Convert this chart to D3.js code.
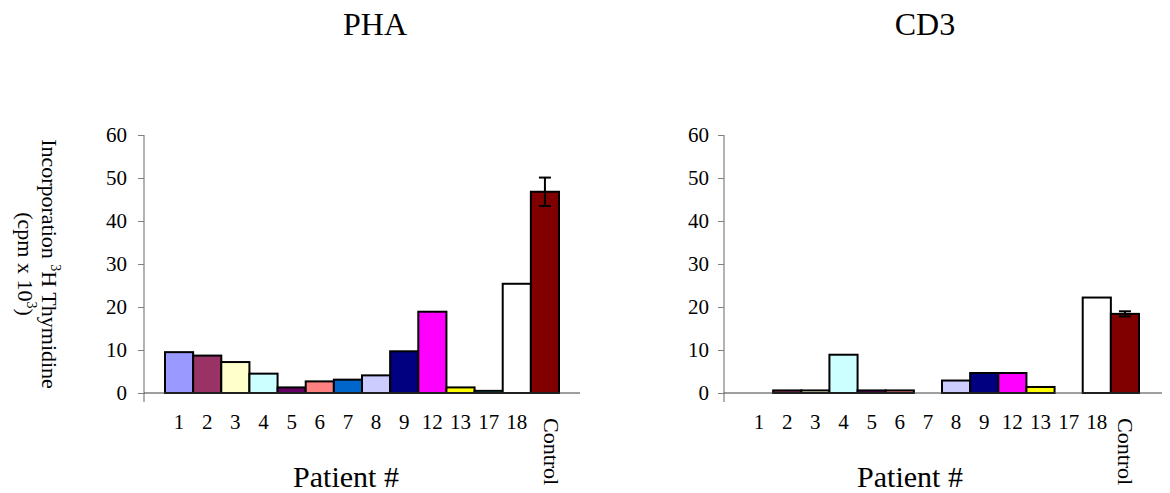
<!DOCTYPE html>
<html>
<head>
<meta charset="utf-8">
<script src="https://cdn.jsdelivr.net/npm/d3@7"></script>
<style>
	body { margin: 0; background: #fff; }
	svg text { font-family: "Liberation Serif", "Times New Roman", serif; fill: #000; }
</style>
</head>
<body>
<svg id="chart" width="1170" height="493"></svg>
<script>
var patients = ["1", "2", "3", "4", "5", "6", "7", "8", "9", "12", "13", "17", "18", "Control"];
var barColors = ["#9999ff", "#993366", "#ffffcc", "#ccffff", "#660066", "#ff8080", "#0066cc",
	"#ccccff", "#000080", "#ff00ff", "#ffff00", "#00ffff", "#ffffff", "#800000"];
var phaValues = [9.5, 8.7, 7.2, 4.5, 1.3, 2.7, 3.1, 4.1, 9.7, 18.9, 1.3, 0.5, 25.4, 46.8];
var phaControlError = 3.3;
var cd3Values = [0, 0.6, 0.6, 8.9, 0.6, 0.6, 0, 2.9, 4.65, 4.65, 1.4, 0, 22.2, 18.4];
var cd3ControlError = 0.6;
var yTicks = [0, 10, 20, 30, 40, 50, 60];

var serif = '"Liberation Serif", "Times New Roman", serif';
var svg = d3.select('#chart');

var panels = [
	{title: 'PHA', values: phaValues, err: phaControlError, x0: 144, x1: 580, titleX: 375, xTitleX: 346, ctrlShift: -1, labelPad: 11},
	{title: 'CD3', values: cd3Values, err: cd3ControlError, x0: 724, x1: 1162, titleX: 925, xTitleX: 910, ctrlShift: -7, labelPad: 9}
];

var y = d3.scaleLinear().domain([0, 60]).range([393, 135]);

panels.forEach(function(p, idx){
	var g = svg.append('g');
	var x = d3.scaleBand()
		.domain(patients)
		.range([p.x0 + 21, p.x0 + 415])
		.padding(0);

	var data = patients.map(function(d, i){
		return {name: d, v: p.values[i], color: barColors[i]};
	});

	// title
	g.append('text')
		.attr('x', p.titleX)
		.attr('y', 35)
		.attr('text-anchor', 'middle')
		.style('font-size', '32px')
		.text(p.title);

	// y axis ticks and labels
	var yAxis = d3.axisLeft(y)
		.tickValues(yTicks)
		.tickSize(6)
		.tickSizeOuter(0)
		.tickPadding(p.labelPad);
	var ag = g.append('g')
		.attr('transform', 'translate(' + p.x0 + ',0)')
		.call(yAxis)
		.attr('font-family', serif)
		.attr('font-size', 21);
	ag.select('.domain').remove();
	ag.selectAll('.tick line').attr('stroke', '#808080');
	ag.selectAll('.tick text').style('font-size', '21px');

	// bars
	g.selectAll('rect.bar')
		.data(data.filter(function(d){ return d.v > 0; }))
		.enter()
		.append('rect')
		.attr('class', 'bar')
		.attr('x', function(d){ return x(d.name); })
		.attr('y', function(d){ return y(d.v); })
		.attr('width', x.bandwidth())
		.attr('height', function(d){ return y(0) - y(d.v); })
		.attr('fill', function(d){ return d.color; })
		.attr('stroke', '#000')
		.attr('stroke-width', 2);

	// axis lines
	g.append('line')
		.attr('x1', p.x0).attr('x2', p.x0)
		.attr('y1', y(60)).attr('y2', y(0) + 9)
		.attr('stroke', '#808080')
		.attr('stroke-width', 1.2);
	g.append('line')
		.attr('x1', p.x0).attr('x2', p.x1)
		.attr('y1', y(0)).attr('y2', y(0))
		.attr('stroke', '#404040')
		.attr('stroke-width', 1.2);

	// error bar on control
	var cx = x('Control') + x.bandwidth() / 2;
	var cv = p.values[p.values.length - 1];
	var eg = g.append('g').attr('stroke', '#000').attr('stroke-width', 2);
	eg.append('line').attr('x1', cx).attr('x2', cx).attr('y1', y(cv + p.err)).attr('y2', y(cv - p.err));
	eg.append('line').attr('x1', cx - 6).attr('x2', cx + 6).attr('y1', y(cv + p.err)).attr('y2', y(cv + p.err));
	eg.append('line').attr('x1', cx - 6).attr('x2', cx + 6).attr('y1', y(cv - p.err)).attr('y2', y(cv - p.err));

	// category labels
	g.selectAll('text.cat')
		.data(patients.slice(0, patients.length - 1))
		.enter()
		.append('text')
		.attr('class', 'cat')
		.attr('x', function(d){ return x(d) + x.bandwidth() / 2; })
		.attr('y', 429)
		.attr('text-anchor', 'middle')
		.style('font-size', '21px')
		.text(function(d){ return d; });
	g.append('text')
		.attr('transform', 'translate(' + (cx + p.ctrlShift) + ',418) rotate(90)')
		.style('font-size', '22px')
		.text('Control');

	// x title
	g.append('text')
		.attr('x', p.xTitleX)
		.attr('y', 487)
		.attr('text-anchor', 'middle')
		.style('font-size', '30px')
		.text('Patient #');

	if(idx == 0){
		var lab = g.append('text')
			.attr('transform', 'translate(42,264) rotate(90)')
			.attr('text-anchor', 'middle')
			.style('font-size', '22px');
		lab.append('tspan').text('Incorporation ');
		lab.append('tspan').attr('dy', -9).style('font-size', '14px').text('3');
		lab.append('tspan').attr('dy', 9).text('H Thymidine');

		var lab2 = g.append('text')
			.attr('transform', 'translate(18,264) rotate(90)')
			.attr('text-anchor', 'middle')
			.style('font-size', '22px');
		lab2.append('tspan').text('(cpm x 10');
		lab2.append('tspan').attr('dy', -9).style('font-size', '14px').text('3');
		lab2.append('tspan').attr('dy', 9).text(')');
	}
});
</script>
</body>
</html>
